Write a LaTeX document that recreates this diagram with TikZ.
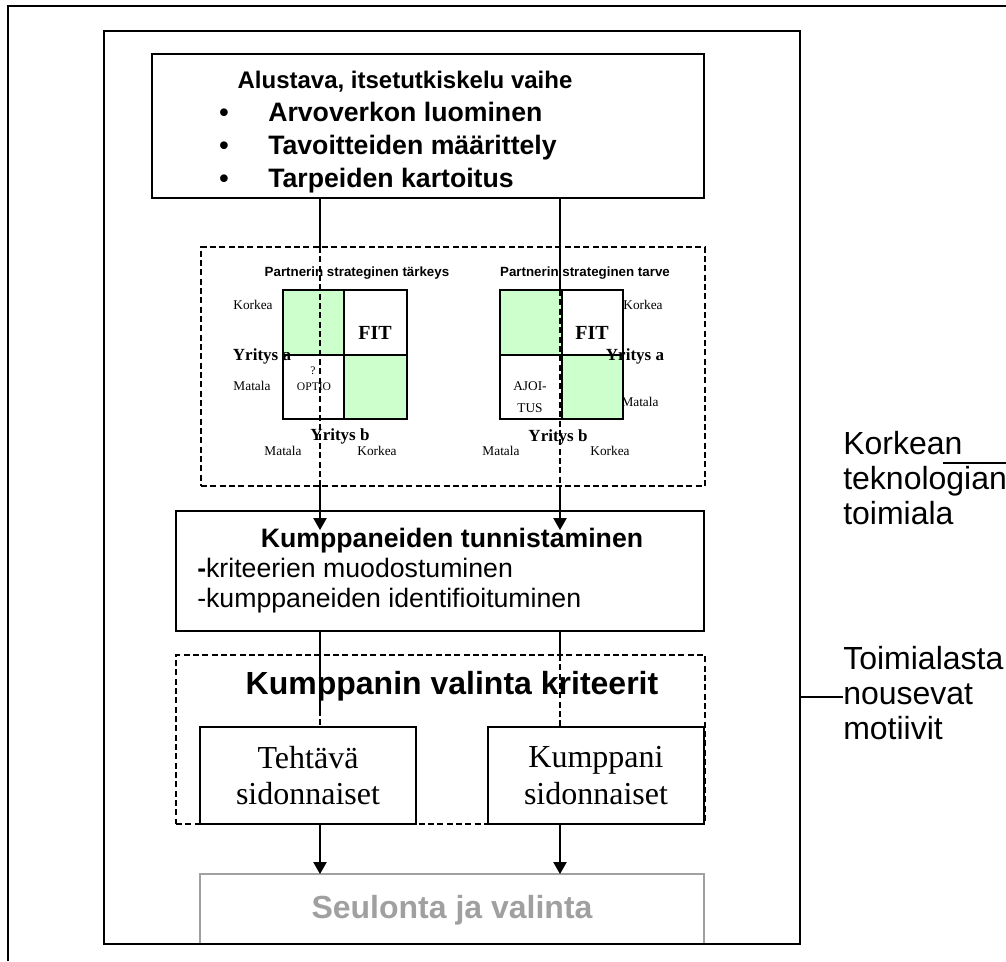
\documentclass[tikz,border=0pt]{standalone}
\usepackage{fontspec}
\setmainfont{Liberation Serif}
\newfontfamily\arial{Liberation Sans}
\usetikzlibrary{fit,calc,arrows.meta}

\definecolor{fitgreen}{HTML}{CCFFCC}
\definecolor{screengrey}{HTML}{A0A0A0}

\tikzset{
  box/.style={draw, line width=1.2pt, inner sep=0pt, outer sep=0pt},
  dbox/.style={draw, line width=0.9pt, dash pattern=on 4.5pt off 2.5pt, inner sep=0pt, outer sep=0pt},
  cell/.style={draw, line width=0.8pt, inner sep=0pt, outer sep=0pt},
  link/.style={line width=0.9pt},
  dlink/.style={line width=0.9pt, dash pattern=on 4.5pt off 2.5pt},
  arrow/.style={line width=0.9pt, -{Triangle[width=10pt,length=9pt]}},
  head/.style={anchor=base, font=\arial\bfseries\fontsize{20}{22.5}\selectfont},
  big/.style={anchor=base, font=\arial\bfseries\fontsize{24}{27}\selectfont},
  side/.style={anchor=west, align=left, font=\arial\fontsize{24}{26.25}\selectfont},
  serifbox/.style={align=center, font=\fontsize{24}{27.5}\selectfont},
  mtitle/.style={anchor=mid, font=\arial\bfseries\fontsize{10}{12}\selectfont},
  axis/.style={anchor=mid, font=\fontsize{10}{12}\selectfont},
  yname/.style={anchor=mid, font=\bfseries\fontsize{12.75}{14}\selectfont},
  fitlabel/.style={anchor=mid, font=\bfseries\fontsize{15}{17}\selectfont},
}

\begin{document}
\begin{tikzpicture}
    [x=0.75pt, y=-0.75pt, every node/.style={inner sep=0pt}]

    \useasboundingbox (0, 0) rectangle (1006, 961);

    \draw [line width=1.2pt] (8, 961) -- (8, 6) -- (1006, 6);

    \coordinate (colL) at (320, 0);
    \coordinate (colR) at (560, 0);

    \node [box, fit={(152, 54) (704, 198)}] (phase) {};
    \node [dbox, fit={(201, 247) (705, 486)}] (matrices) {};
    \node [box, fit={(176, 511) (704, 631)}] (ident) {};
    \node [dbox, fit={(176, 655) (705, 824)}] (criteria) {};
    \node [box, fill=white, fit={(200, 727) (416, 824)}] (task) {};
    \node [box, fill=white, fit={(488, 727) (704, 824)}] (partner) {};
    \node [box, draw=screengrey, fit={(200, 874) (704, 944)}] (screen) {};
    \node [box, fit={(104, 31) (800, 944)}] (frame) {};

    \node [anchor=base, font=\arial\bfseries\fontsize{18}{21}\selectfont] at (405, 88) (phasetitle) {Alustava, itsetutkiskelu vaihe};
    \node [head] at (224, 121) (bul1) {•};
    \node [head] at (224, 154) (bul2) {•};
    \node [head] at (224, 187) (bul3) {•};
    \node [head, anchor=base west] at (268, 121) (item1) {Arvoverkon luominen};
    \node [head, anchor=base west] at (268, 154) (item2) {Tavoitteiden määrittely};
    \node [head, anchor=base west] at (268, 187) (item3) {Tarpeiden kartoitus};

    % matriisit
    \node [cell, fill=fitgreen, fit={(283, 290) (344, 355)}] (m1tl) {};
    \node [cell, fit={(344, 290) (407, 355)}] (m1tr) {};
    \node [cell, fit={(283, 355) (344, 419)}] (m1bl) {};
    \node [cell, fill=fitgreen, fit={(344, 355) (407, 419)}] (m1br) {};

    \node [cell, fill=fitgreen, fit={(500, 290) (562, 355)}] (m2tl) {};
    \node [cell, fit={(562, 290) (623, 355)}] (m2tr) {};
    \node [cell, fit={(500, 355) (562, 419)}] (m2bl) {};
    \node [cell, fill=fitgreen, fit={(562, 355) (623, 419)}] (m2br) {};

    \node [mtitle] at (357, 273) (m1title) {Partnerin strateginen tärkeys};
    \node [axis] at (253, 306) (m1high) {Korkea};
    \node [fitlabel] at (375, 336) (m1fit) {FIT};
    \node [yname] at (262, 357) (m1ya) {Yritys a};
    \node [axis, font=\fontsize{8.7}{10}\selectfont] at (313, 371) (m1q) {?};
    \node [axis, font=\fontsize{8.7}{10}\selectfont] at (314, 387) (m1opt) {OPTIO};
    \node [axis] at (252, 387) (m1low) {Matala};
    \node [yname] at (340, 437) (m1yb) {Yritys b};
    \node [axis] at (283, 452) (m1blow) {Matala};
    \node [axis] at (377, 452) (m1bhigh) {Korkea};

    \node [mtitle] at (585, 273) (m2title) {Partnerin strateginen tarve};
    \node [axis] at (643, 306) (m2high) {Korkea};
    \node [fitlabel] at (592, 336) (m2fit) {FIT};
    \node [yname] at (635, 357) (m2ya) {Yritys a};
    \node [align=center, font=\fontsize{10}{16}\selectfont] at (530, 397) (m2time) {AJOI-\\TUS};
    \node [axis] at (640, 403) (m2low) {Matala};
    \node [yname] at (558, 438) (m2yb) {Yritys b};
    \node [axis] at (501, 452) (m2blow) {Matala};
    \node [axis] at (610, 452) (m2bhigh) {Korkea};

    \node [head] at (452, 547) (identtitle) {Kumppaneiden tunnistaminen};
    \node [anchor=base west, font=\arial\fontsize{20}{22.5}\selectfont] at (197, 577) (ident1) {\textbf{-}kriteerien muodostuminen};
    \node [anchor=base west, font=\arial\fontsize{20}{22.5}\selectfont] at (197, 607) (ident2) {-kumppaneiden identifioituminen};

    \node [big] at (452, 694) (crittitle) {Kumppanin valinta kriteerit};
    \node [serifbox] at (task.center) (tasktext) {Tehtävä\\sidonnaiset};
    \node [serifbox] at (partner.center) (partnertext) {Kumppani\\sidonnaiset};
    \node [big, text=screengrey] at (452, 918) (screentext) {Seulonta ja valinta};

    \node [side] at (843, 478) (hitech) {Korkean\\teknologian\\toimiala};
    \node [side] at (843, 693) (motives) {Toimialasta\\nousevat\\motiivit};
    \coordinate (hitechA) at (943, 463);
    \coordinate (hitechB) at (1006, 463);
    \coordinate (motivesA) at (843, 697);

    \draw [link] (hitechA) -- (hitechB);
    \draw [link] (frame.east |- motivesA) -- (motivesA);

    \draw [link] (phase.south -| colL) -- (matrices.north -| colL);
    \draw [dlink] (matrices.north -| colL) -- (matrices.south -| colL);
    \draw [arrow] (matrices.south -| colL) -- ($(ident.north -| colL) + (0, 19)$);

    \draw [link] (phase.south -| colR) -- (m2tl.north -| colR);
    \draw [dlink] (m2tl.north -| colR) -- (matrices.south -| colR);
    \draw [arrow] (matrices.south -| colR) -- ($(ident.north -| colR) + (0, 19)$);

    \draw [link] (ident.south -| colL) -- ($(task.north -| colL) + (0, -17)$);
    \draw [dlink] ($(task.north -| colL) + (0, -17)$) -- (task.north -| colL);
    \draw [link] (ident.south -| colR) -- (criteria.north -| colR);
    \draw [dlink] (criteria.north -| colR) -- (partner.north -| colR);

    \draw [arrow] (task.south -| colL) -- (screen.north -| colL);
    \draw [arrow] (partner.south -| colR) -- (screen.north -| colR);

  \end{tikzpicture}
\end{document}
